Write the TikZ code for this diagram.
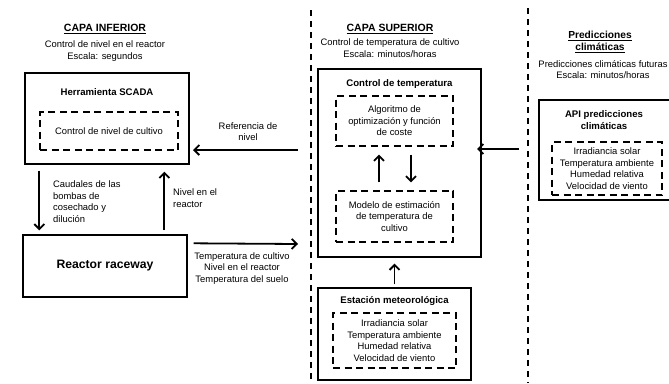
\documentclass[tikz,border=0pt]{standalone}
\usepackage{fontspec}
\setmainfont{Liberation Sans}
\usetikzlibrary{arrows.meta,calc}
\begin{document}
\begin{tikzpicture}[x=1pt,y=-1pt,
  every node/.style={font=\fontsize{9.4}{11.5}\selectfont, inner sep=0pt, align=center},
  box/.style={draw, line width=1.4pt},
  dbox/.style={draw, line width=1.3pt, dash pattern=on 7pt off 4.5pt},
  divider/.style={line width=1.6pt, dash pattern=on 6pt off 5pt},
  arr/.style={line width=1.8pt, -{Straight Barb[length=5pt,width=10pt,line width=1.8pt]}},
  ttl/.style={font=\fontsize{10.5}{12.5}\selectfont\bfseries},
  hd/.style={font=\fontsize{9.6}{12.5}\selectfont\bfseries},
  big/.style={font=\fontsize{12.2}{14}\selectfont\bfseries}]
\useasboundingbox (0,0) rectangle (669,383);
\clip (0,0) rectangle (669,383);

% dividers
\draw[divider] (311,10) -- (311,383);
\draw[divider] (528,8) -- (528,383);

% ---------- CAPA INFERIOR ----------
\node[ttl] (tinf) at (105,29) {\underline{CAPA INFERIOR}};
\node (sinf) at (105,51) {Control de nivel en el reactor\\Escala: segundos};

\node[box, minimum width=164pt, minimum height=91pt] (scada) at (107,118.5) {};
\node[hd] (scadat) at (107,92) {Herramienta SCADA};
\node[dbox, minimum width=138pt, minimum height=38pt] (nivel) at (109,131) {Control de nivel de cultivo};

\node[box, minimum width=164pt, minimum height=62pt, big] (reactor) at (105,266) {Reactor raceway};

\draw[arr] ([xshift=15pt,yshift=-6pt]scada.south west) -- ([xshift=17pt,yshift=4pt]reactor.north west);
\draw[arr] ([xshift=142pt,yshift=4pt]reactor.north west) -- ([xshift=140pt,yshift=-7pt]scada.south west);

\node[anchor=west, align=left] (lcaud) at (53,201.5) {Caudales de las\\bombas de\\cosechado y\\dilución};
\node[anchor=west, align=left] (lniv) at (173,198) {Nivel en el\\reactor};

\coordinate (refstart) at (298,150);
\coordinate (refend) at (193,150);
\draw[arr] (refstart) -- (refend);
\node (lref) at (248,131.5) {Referencia de\\nivel};

\coordinate (supin) at (298,244);
\draw[arr] ([xshift=6pt,yshift=-9pt]reactor.north east) -- (supin);
\node (lmeas) at (242,268.5) {Temperatura de cultivo\\Nivel en el reactor\\Temperatura del suelo};

% ---------- CAPA SUPERIOR ----------
\node[ttl] (tsup) at (390,29) {\underline{CAPA SUPERIOR}};
\node (ssup) at (390,48) {Control de temperatura de cultivo\\Escala: minutos/horas};

\node[box, minimum width=163pt, minimum height=188pt] (ctrl) at (399.5,163) {};
\node[hd] (ctrlt) at (399.5,84) {Control de temperatura};
\node[dbox, minimum width=117pt, minimum height=50pt] (mA) at (394.5,121) {Algoritmo de\\optimización y función\\de coste};
\node[dbox, minimum width=117pt, minimum height=51pt] (mB) at (394.5,216.5) {Modelo de estimación\\de temperatura de\\cultivo};
\draw[arr] ([xshift=-15.5pt,yshift=8pt]mB.north) -- ([xshift=-15.5pt,yshift=-8pt]mA.south);
\draw[arr] ([xshift=16.5pt,yshift=-8pt]mA.south) -- ([xshift=16.5pt,yshift=8pt]mB.north);

\node[box, minimum width=153pt, minimum height=92pt] (est) at (394.5,334) {};
\node[hd] (estt) at (394.5,301) {Estación meteorológica};
\node[dbox, minimum width=123pt, minimum height=55pt] (estd) at (394.5,340.5) {Irradiancia solar\\Temperatura ambiente\\Humedad relativa\\Velocidad de viento};
\draw[arr] ([yshift=3pt]est.north) -- ($(est.north |- ctrl.south)+(0,6)$);

\coordinate (apiout) at (519,149);
\coordinate (ctrlin) at (477,149);
\draw[arr] (apiout) -- (ctrlin);

% ---------- PREDICCIONES ----------
\node[ttl, font=\fontsize{10.2}{12}\selectfont\bfseries] (tpred) at (600,42) {\underline{Predicciones}\\\underline{climáticas}};
\node (spred) at (603,69.5) {Predicciones climáticas futuras\\Escala: minutos/horas};

\node[box, minimum width=140pt, minimum height=100pt] (api) at (609,150) {};
\node[hd] (apit) at (604,120) {API predicciones\\climáticas};
\node[dbox, minimum width=110pt, minimum height=53pt] (apid) at (607,168.5) {Irradiancia solar\\Temperatura ambiente\\Humedad relativa\\Velocidad de viento};
\end{tikzpicture}
\end{document}
